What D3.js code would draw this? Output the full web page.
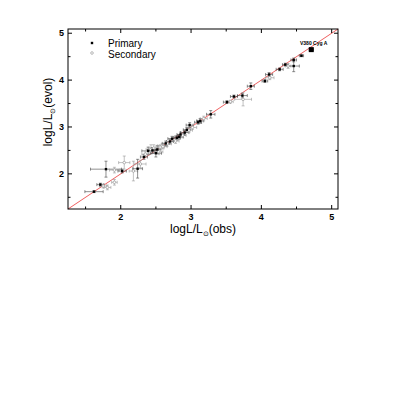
<!DOCTYPE html>
<html>
<head>
<meta charset="utf-8">
<script src="https://cdn.jsdelivr.net/npm/d3@7/dist/d3.min.js"></script>
<style>
  body { margin: 0; background: #fff; }
  text { font-family: "Liberation Sans", Arial, sans-serif; }
</style>
</head>
<body>
<svg width="415" height="409"></svg>
<script>
// logL/Lsun observed vs evolutionary
let kind  = ['P','P','S','S','S','P','S','P','S','S','P','S','P','P','S','P','P','S','S','S','P','S','P','P','S','P','P','S','P','P','S','P','S','P','S','P','P','P','S','S','P','S','P','P','S','P','P','S','P','P','S','P','P','P','S','P','P','P'];
let obsL  = [1.62,1.71,1.75,1.81,1.91,1.79,1.91,2.02,2.05,2.18,2.24,2.28,2.33,2.39,2.43,2.50,2.52,2.54,2.47,2.59,2.64,2.60,2.73,2.70,2.78,2.83,2.85,2.88,2.91,2.94,2.97,2.98,3.02,3.13,3.18,3.28,3.10,2.80,2.66,2.56,2.45,2.35,3.51,3.61,3.56,3.73,3.85,3.74,4.05,4.11,4.12,4.26,4.34,4.46,4.38,4.46,4.57,4.71];
let evolL = [1.62,1.77,1.74,1.71,1.82,2.10,2.08,2.06,2.24,2.06,2.11,2.21,2.36,2.49,2.52,2.44,2.52,2.47,2.55,2.60,2.65,2.58,2.75,2.69,2.70,2.79,2.84,2.82,2.88,2.94,2.93,3.04,2.99,3.13,3.18,3.27,3.10,2.77,2.64,2.57,2.50,2.42,3.53,3.65,3.54,3.67,3.87,3.59,3.98,4.12,4.05,4.23,4.33,4.43,4.30,4.30,4.52,4.65];
let errX  = [0.13,0.05,0.05,0.05,0.04,0.22,0.07,0.06,0.08,0.06,0.07,0.08,0.05,0.09,0.07,0.08,0.05,0.06,0.07,0.07,0.05,0.06,0.06,0.05,0.05,0.06,0.05,0.05,0.06,0.05,0.05,0.05,0.06,0.05,0.05,0.06,0.05,0.05,0.06,0.06,0.07,0.05,0.05,0.05,0.04,0.07,0.05,0.12,0.04,0.05,0.06,0.05,0.04,0.04,0.04,0.08,0.03,0.03];
let errY  = [0.02,0.03,0.04,0.05,0.06,0.17,0.06,0.04,0.14,0.21,0.2,0.08,0.05,0.08,0.1,0.08,0.08,0.06,0.07,0.05,0.05,0.05,0.05,0.05,0.05,0.05,0.05,0.05,0.05,0.05,0.05,0.05,0.04,0.05,0.05,0.08,0.04,0.05,0.05,0.05,0.06,0.05,0.03,0.03,0.03,0.05,0.07,0.14,0.03,0.04,0.04,0.03,0.03,0.04,0.05,0.12,0.02,0.03];
let ticks = [2, 3, 4, 5];
let minorTicks = [1.5, 2.5, 3.5, 4.5];
let seriesNames = ['Primary', 'Secondary'];

let svg = d3.select('svg');
let mLeft = 68, mRight = 338, mTop = 29, mBottom = 209;

let x = d3.scaleLinear().domain([1.25, 5.09]).range([mLeft, mRight]);
let y = d3.scaleLinear().domain([1.25, 5.09]).range([mBottom, mTop]);

let pts = obsL.map((v, i) => ({ x: v, y: evolL[i], ex: errX[i], ey: errY[i], k: kind[i] }));

let plot = svg.append('g');

// 1:1 line
plot.append('line')
  .attr('x1', x(1.25)).attr('y1', y(1.25))
  .attr('x2', x(5.09)).attr('y2', y(5.09))
  .attr('stroke', '#f06060').attr('stroke-width', 1);

// error bars
let eb = plot.append('g').attr('stroke-width', 0.6);
pts.forEach(d => {
  let c = d.k === 'P' ? '#444' : '#999';
  let g = eb.append('g').attr('stroke', c);
  g.append('line').attr('x1', x(d.x - d.ex)).attr('x2', x(d.x + d.ex)).attr('y1', y(d.y)).attr('y2', y(d.y));
  g.append('line').attr('x1', x(d.x)).attr('x2', x(d.x)).attr('y1', y(d.y - d.ey)).attr('y2', y(d.y + d.ey));
  // caps
  g.append('line').attr('x1', x(d.x - d.ex)).attr('x2', x(d.x - d.ex)).attr('y1', y(d.y) - 1.5).attr('y2', y(d.y) + 1.5);
  g.append('line').attr('x1', x(d.x + d.ex)).attr('x2', x(d.x + d.ex)).attr('y1', y(d.y) - 1.5).attr('y2', y(d.y) + 1.5);
  g.append('line').attr('x1', x(d.x) - 1.5).attr('x2', x(d.x) + 1.5).attr('y1', y(d.y - d.ey)).attr('y2', y(d.y - d.ey));
  g.append('line').attr('x1', x(d.x) - 1.5).attr('x2', x(d.x) + 1.5).attr('y1', y(d.y + d.ey)).attr('y2', y(d.y + d.ey));
});

// markers
plot.selectAll('circle.sec')
  .data(pts.filter(d => d.k === 'S'))
  .enter().append('circle')
  .attr('cx', d => x(d.x)).attr('cy', d => y(d.y)).attr('r', 1.3)
  .attr('fill', '#fff').attr('stroke', '#999').attr('stroke-width', 0.7);

plot.selectAll('rect.pri')
  .data(pts.filter(d => d.k === 'P'))
  .enter().append('rect')
  .attr('x', d => x(d.x) - (d.x > 4.7 ? 2.5 : 1.2))
  .attr('y', d => y(d.y) - (d.x > 4.7 ? 2.5 : 1.2))
  .attr('width', d => d.x > 4.7 ? 5 : 2.4)
  .attr('height', d => d.x > 4.7 ? 5 : 2.4)
  .attr('fill', '#000');

// frame
svg.append('rect').attr('x', mLeft).attr('y', mTop).attr('width', mRight - mLeft).attr('height', mBottom - mTop)
  .attr('fill', 'none').attr('stroke', '#000').attr('stroke-width', 1);

// ticks, all inward
let tk = svg.append('g').attr('stroke', '#000').attr('stroke-width', 1);
function tickLines(vals, len) {
  vals.forEach(v => {
    tk.append('line').attr('x1', x(v)).attr('x2', x(v)).attr('y1', mBottom).attr('y2', mBottom - len);
    tk.append('line').attr('x1', x(v)).attr('x2', x(v)).attr('y1', mTop).attr('y2', mTop + len);
    tk.append('line').attr('y1', y(v)).attr('y2', y(v)).attr('x1', mLeft).attr('x2', mLeft + len);
    tk.append('line').attr('y1', y(v)).attr('y2', y(v)).attr('x1', mRight).attr('x2', mRight - len);
  });
}
tickLines(ticks, 4);
tickLines(minorTicks, 2.5);

svg.selectAll('text.xt')
  .data(ticks).enter().append('text')
  .attr('x', d => x(d)).attr('y', mBottom + 11)
  .attr('text-anchor', 'middle').attr('font-size', 9).attr('font-weight', 'bold')
  .text(d => d);

svg.selectAll('text.yt')
  .data(ticks).enter().append('text')
  .attr('x', mLeft - 4).attr('y', d => y(d) + 3)
  .attr('text-anchor', 'end').attr('font-size', 9).attr('font-weight', 'bold')
  .text(d => d);

// axis titles
let xt = svg.append('text').attr('x', 203).attr('y', 233).attr('text-anchor', 'middle')
  .attr('font-size', 12);
xt.append('tspan').text('logL/L');
xt.append('tspan').attr('font-size', 7).attr('dy', 3).text('⊙');
xt.append('tspan').attr('dy', -3).text('(obs)');

let yt = svg.append('text').attr('transform', 'translate(52,112) rotate(-90)').attr('text-anchor', 'middle')
  .attr('font-size', 12);
yt.append('tspan').text('logL/L');
yt.append('tspan').attr('font-size', 7).attr('dy', 3).text('⊙');
yt.append('tspan').attr('dy', -3).text('(evol)');

// legend
let lg = svg.append('g');
lg.append('rect').attr('x', 90.8).attr('y', 41.8).attr('width', 2.4).attr('height', 2.4).attr('fill', '#000');
lg.append('circle').attr('cx', 92).attr('cy', 53).attr('r', 1.3).attr('fill', '#fff').attr('stroke', '#999').attr('stroke-width', 0.7);
lg.selectAll('text').data(seriesNames).enter().append('text')
  .attr('x', 108).attr('y', (d, i) => 47 + i * 10.5)
  .attr('font-size', 10).text(d => d);

// star label
svg.append('text').attr('x', 300).attr('y', 45).attr('font-size', 5).attr('font-weight', 'bold').text('V380 Cyg A');
</script>
</body>
</html>
